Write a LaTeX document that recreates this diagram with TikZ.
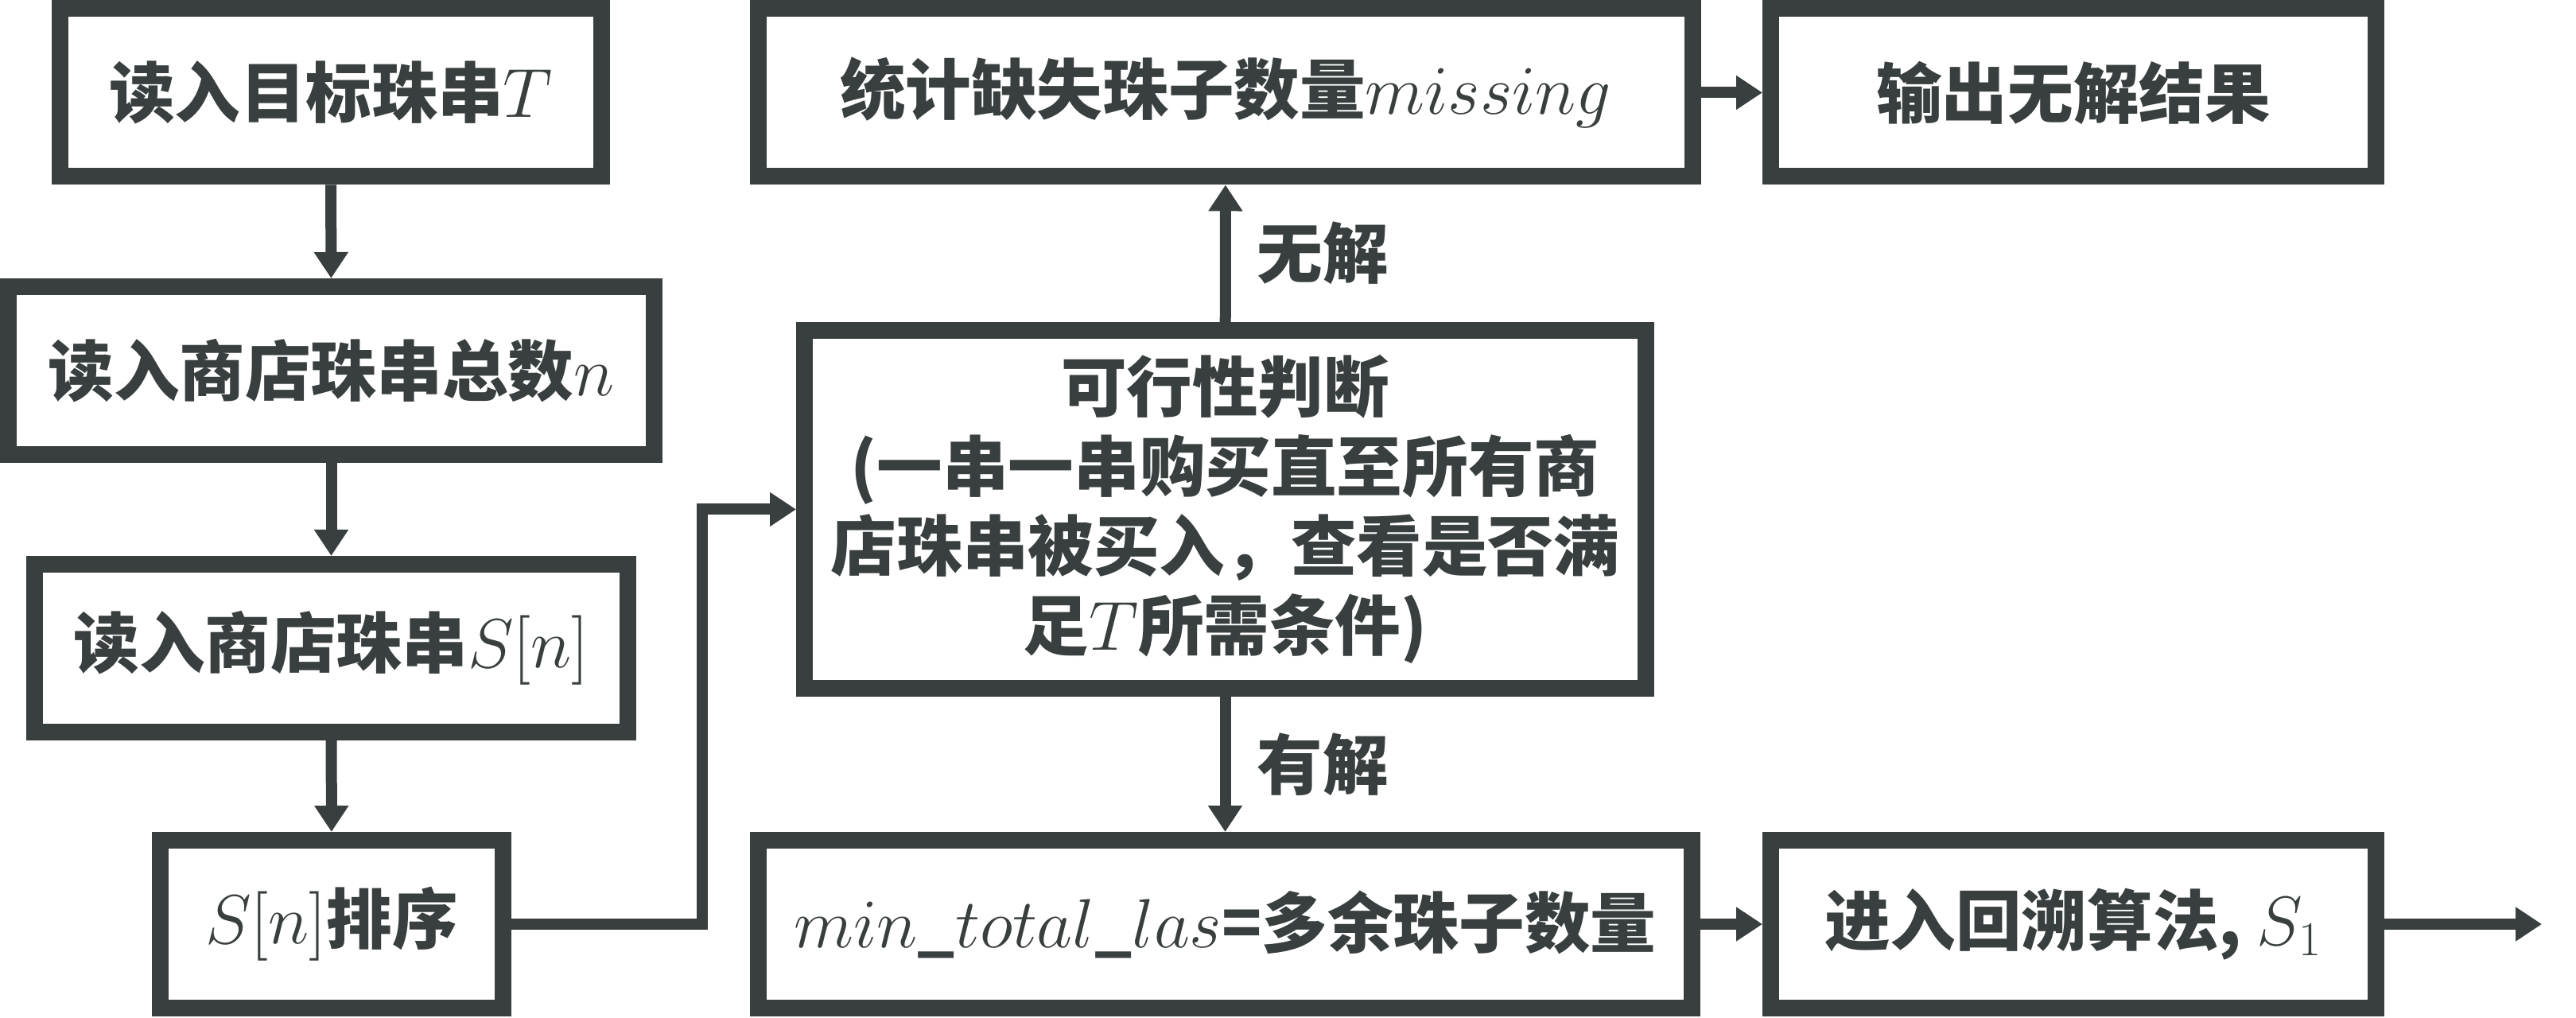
\documentclass[tikz,border=0pt]{standalone}
\usepackage{fontspec}
\setmainfont{Noto Sans CJK SC}
\usetikzlibrary{arrows.meta}
\definecolor{ink}{RGB}{57,62,62}
\begin{document}
\begin{tikzpicture}[
        box/.style={draw=ink,line width=0.21cm,fill=white,rectangle,
            inner sep=0pt,outer sep=0.105cm,minimum height=2.11cm,
            align=center,text=ink,font=\fontsize{23.5}{28.5}\selectfont\bfseries},
        conn/.style={draw=ink,line width=0.14cm,
            -{Triangle[length=0.33cm,width=0.41cm]}},
        tag/.style={text=ink,inner sep=0pt,anchor=west,xshift=0.33cm,
            font=\fontsize{23.5}{28.5}\selectfont\bfseries}
    ]
        \useasboundingbox (0,0) rectangle (32.39,-12.80);
        %% Input column
        \node[box,minimum width=6.81cm] (T) at (4.16,-1.165) {读入目标珠串$T$};
        \node[box,minimum width=8.12cm] (N) at (4.165,-4.66) {读入商店珠串总数$n$};
        \node[box,minimum width=7.46cm] (S) at (4.165,-8.15) {读入商店珠串$S[n]$};
        \node[box,minimum width=4.31cm] (R) at (4.17,-11.62) {$S[n]$排序};
        %% Check and outcomes
        \node[box,minimum width=10.58cm,minimum height=4.50cm] (C) at (15.405,-6.405)
            {可行性判断\\(一串一串购买直至所有商\\店珠串被买入，查看是否满\\足$T$所需条件)};
        \node[box,minimum width=11.75cm] (M) at (15.41,-1.165) {统计缺失珠子数量$missing$};
        \node[box,minimum width=7.61cm] (F) at (26.07,-1.165) {输出无解结果};
        \node[box,minimum width=11.74cm] (X) at (15.405,-11.62) {$min\_total\_las$=多余珠子数量};
        \node[box,minimum width=7.61cm] (B) at (26.07,-11.62) {进入回溯算法, $S_1$};
        \coordinate (E) at (31.96,-11.62);
        %% Connectors
        \draw[conn] (T) -- (N);
        \draw[conn] (N) -- (S);
        \draw[conn] (S) -- (R);
        \draw[conn] (R.east) -- ++(2.40,0) |- (C.west);
        \draw[conn] (C) -- (M) node[tag,midway] {无解};
        \draw[conn] (C) -- (X) node[tag,midway] {有解};
        \draw[conn] (M) -- (F);
        \draw[conn] (X) -- (B);
        \draw[conn] (B) -- (E);
    \end{tikzpicture}
\end{document}
